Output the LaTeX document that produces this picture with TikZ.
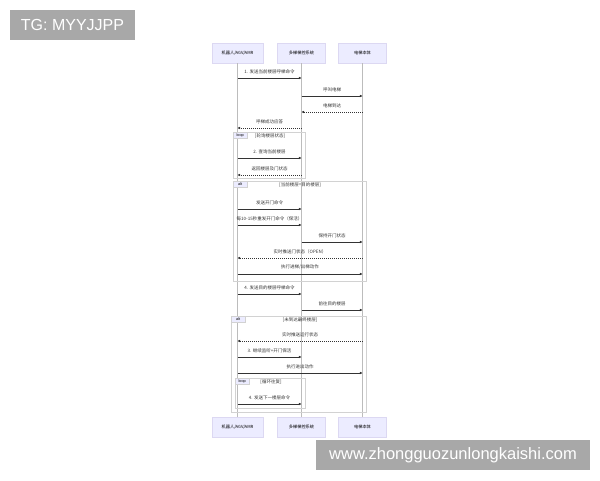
\documentclass[tikz,border=0pt]{standalone}
\usepackage{fontspec}
\setmainfont{Liberation Sans}
\newfontfamily\cjk{Noto Sans CJK SC}
\usetikzlibrary{arrows.meta}
\definecolor{boxfill}{HTML}{ECECFF}
\definecolor{boxline}{HTML}{DCD8F2}
\definecolor{wmgray}{HTML}{A8A8A8}
\definecolor{lifegray}{HTML}{BCBCBC}
\definecolor{framegray}{HTML}{D2D2D2}
\definecolor{msgcol}{HTML}{333333}

\begin{document}
\begin{tikzpicture}
[
x=1pt,y=-1pt,
actor/.style={draw=boxline,fill=boxfill,line width=0.4pt,minimum width=#1,minimum height=20pt,inner sep=0pt,font=\cjk\fontsize{4.2}{5}\selectfont},
actor/.default=48pt,
lifeline/.style={draw=lifegray,line width=0.4pt},
msg/.style={draw=msgcol,line width=0.5pt,-{Triangle[length=2.6pt,width=2.2pt]}},
reply/.style={msg,dash pattern=on 1pt off 1pt},
lbl/.style={above=4.2pt,inner sep=0pt,text=msgcol,font=\cjk\fontsize{4.5}{5}\selectfont},
frame/.style={draw=framegray,line width=0.4pt},
tag/.style={fill=boxfill,draw=framegray,line width=0.3pt,anchor=north west,minimum width=14pt,minimum height=6pt,inner sep=0pt,font=\fontsize{3.8}{4}\selectfont},
cond/.style={inner sep=0pt,text=msgcol,font=\cjk\fontsize{4.5}{5}\selectfont},
wmark/.style={fill=wmgray,text=white,inner sep=0pt},
]
\useasboundingbox (0,0) rectangle (600,480);

% participants
\node[actor=51pt] (rbtop) at (237.5,53) {机器人/AGV/AMR};
\node[actor] (sytop) at (301.5,53) {多梯梯控系统};
\node[actor] (eltop) at (362.5,53) {电梯本体};
\node[actor=51pt] (rbbot) at (237.5,427) {机器人/AGV/AMR};
\node[actor] (sybot) at (301.5,427) {多梯梯控系统};
\node[actor] (elbot) at (362.5,427) {电梯本体};

\draw[lifeline] (rbtop) -- (rbbot);
\draw[lifeline] (sytop) -- (sybot);
\draw[lifeline] (eltop) -- (elbot);

% rows of the messages
\coordinate (r1) at (0,78);
\coordinate (r2) at (0,96);
\coordinate (r3) at (0,112);
\coordinate (r4) at (0,128);
\coordinate (r5) at (0,158);
\coordinate (r6) at (0,175);
\coordinate (r7) at (0,209);
\coordinate (r8) at (0,225);
\coordinate (r9) at (0,242);
\coordinate (r10) at (0,258);
\coordinate (r11) at (0,274);
\coordinate (r12) at (0,294);
\coordinate (r13) at (0,310);
\coordinate (r14) at (0,341);
\coordinate (r15) at (0,357);
\coordinate (r16) at (0,373);
\coordinate (r17) at (0,404);

% frames
\draw[frame] (233,132) rectangle (305,178);
\node[tag] (loopa) at (233,132) {loop};
\node[cond] (loopac) at (270,136) {[轮询楼层状态]};

\draw[frame] (233,181) rectangle (366,281);
\node[tag] (alta) at (233,181) {alt};
\node[cond] (altac) at (300,185) {[当前楼层=目的楼层]};

\draw[frame] (231,316) rectangle (366,412);
\node[tag] (altb) at (231,316) {alt};
\node[cond] (altbc) at (300,320) {[未到达最终楼层]};

\draw[frame] (235,378) rectangle (305,408);
\node[tag] (loopb) at (235,378) {loop};
\node[cond] (loopbc) at (271,382) {[循环往复]};

% messages
\draw[msg] (rbtop|-r1) -- node[lbl] {1. 发送当前楼层呼梯命令} (sytop|-r1);
\draw[msg] (sytop|-r2) -- node[lbl] {呼叫电梯} (eltop|-r2);
\draw[reply] (eltop|-r3) -- node[lbl] {电梯到达} (sytop|-r3);
\draw[reply] (sytop|-r4) -- node[lbl] {呼梯成功应答} (rbtop|-r4);
\draw[msg] (rbtop|-r5) -- node[lbl] {2. 查询当前楼层} (sytop|-r5);
\draw[reply] (sytop|-r6) -- node[lbl] {返回楼层及门状态} (rbtop|-r6);
\draw[msg] (rbtop|-r7) -- node[lbl] {发送开门命令} (sytop|-r7);
\draw[msg] (rbtop|-r8) -- node[lbl] {每10-15秒重发开门命令（保活）} (sytop|-r8);
\draw[msg] (sytop|-r9) -- node[lbl] {保持开门状态} (eltop|-r9);
\draw[reply] (eltop|-r10) -- node[lbl] {实时推送门状态（OPEN）} (rbtop|-r10);
\draw[msg] (rbtop|-r11) -- node[lbl] {执行进梯/出梯动作} (eltop|-r11);
\draw[msg] (rbtop|-r12) -- node[lbl] {4. 发送目的楼层呼梯命令} (sytop|-r12);
\draw[msg] (sytop|-r13) -- node[lbl] {前往目的楼层} (eltop|-r13);
\draw[reply] (eltop|-r14) -- node[lbl] {实时推送运行状态} (rbtop|-r14);
\draw[msg] (rbtop|-r15) -- node[lbl] {3. 继续监听+开门保活} (sytop|-r15);
\draw[msg] (rbtop|-r16) -- node[lbl] {执行进出动作} (eltop|-r16);
\draw[msg] (rbtop|-r17) -- node[lbl] {4. 发送下一楼层命令} (sytop|-r17);

% watermarks
\node[wmark,minimum width=125pt,minimum height=30pt,font=\fontsize{16}{18}\selectfont] (tg) at (72.5,25) {TG: MYYJJPP};
\node[wmark,minimum width=274pt,minimum height=30pt,font=\fontsize{16.5}{18}\selectfont] (url) at (453,455) {www.zhongguozunlongkaishi.com};

\end{tikzpicture}
\end{document}
